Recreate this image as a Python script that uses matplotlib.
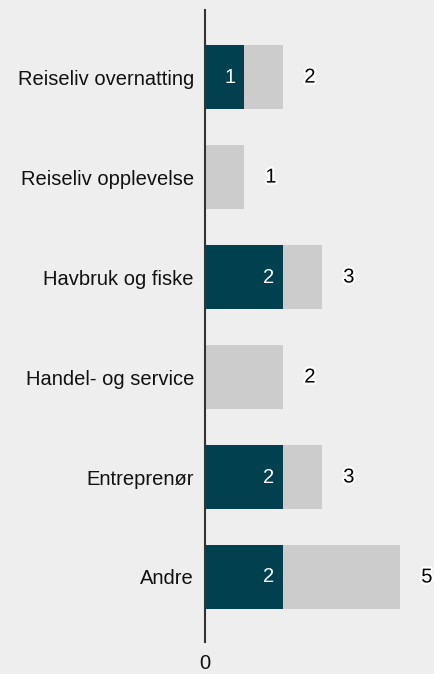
import matplotlib.pyplot as plt
import matplotlib.patheffects as pe

plt.rcParams['font.family'] = ['Liberation Sans', 'DejaVu Sans']

categories = ['Reiseliv overnatting', 'Reiseliv opplevelse', 'Havbruk og fiske',
              'Handel- og service', 'Entreprenør', 'Andre']
dark_vals = [1, 0, 2, 0, 2, 2]
totals = [2, 1, 3, 2, 3, 5]

bg = '#eeeeee'
dark = '#00404f'
light = '#cccccc'

fig = plt.figure(figsize=(4.35, 6.74), dpi=100, facecolor=bg)
ax = fig.add_axes([0.4713, 0.0475, 0.5287, 0.9375], facecolor=bg)

y = list(range(len(categories)))
ax.barh(y, totals, height=0.64, color=light)
ax.barh(y, dark_vals, height=0.64, color=dark)

for i, (d, t) in enumerate(zip(dark_vals, totals)):
    if d > 0:
        ax.text(d - 0.22, i, str(d), ha='right', va='center', color='white', fontsize=14.5)
    ax.text(t + 0.69, i, str(t), ha='center', va='center', color='black', fontsize=14.5,
            path_effects=[pe.withStroke(linewidth=3, foreground='white')])

ax.set_xlim(0, 5.9)
ax.set_ylim(5.65, -0.67)
ax.set_yticks(y)
ax.set_yticklabels(categories, fontsize=14.5, color='#111111')
ax.set_xticks([0])
ax.set_xticklabels(['0'], fontsize=14.5, color='#111111')
ax.tick_params(axis='y', length=0, pad=8)
ax.tick_params(axis='x', length=0, pad=9)
for s in ['top', 'right', 'bottom']:
    ax.spines[s].set_visible(False)
ax.spines['left'].set_color('#333333')
ax.spines['left'].set_linewidth(1.5)

fig.savefig('out.png', dpi=100, facecolor=bg)
